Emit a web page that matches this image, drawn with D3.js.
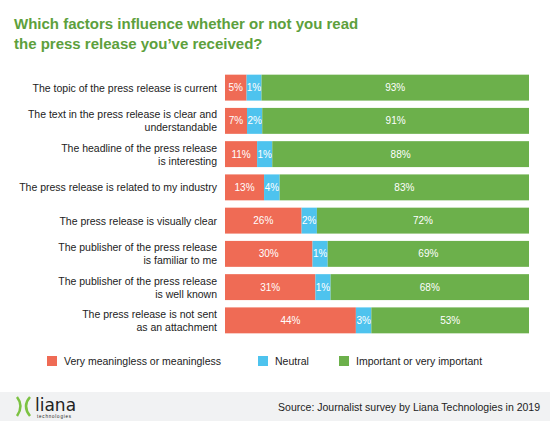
<!DOCTYPE html><html><head><meta charset="utf-8"><script src="https://cdn.jsdelivr.net/npm/d3@7"></script>
<style>body{margin:0;background:#fff}</style></head><body><svg id="c" width="550" height="421"></svg>
<script>
const categories=[["The topic of the press release is current"],["The text in the press release is clear and","understandable"],["The headline of the press release","is interesting"],["The press release is related to my industry"],["The press release is visually clear"],["The publisher of the press release","is familiar to me"],["The publisher of the press release","is well known"],["The press release is not sent","as an attachment"]];
const meaningless=[5,7,11,13,26,30,31,44];
const neutral=[1,2,1,4,2,1,1,3];
const important=[93,91,88,83,72,69,68,53];
const seriesNames=["Very meaningless or meaningless","Neutral","Important or very important"];
const colors=["#ef6b55","#4ec3ee","#6cb04b"];
const svg=d3.select("#c"),F="Liberation Sans, Arial, sans-serif";
svg.append("text").attr("x",14).attr("y",29).attr("fill","#5da03c").attr("font-family",F).attr("font-weight","bold").attr("font-size",15).text("Which factors influence whether or not you read");
svg.append("text").attr("x",14).attr("y",49).attr("fill","#5da03c").attr("font-family",F).attr("font-weight","bold").attr("font-size",15).text("the press release you’ve received?");
const y=d3.scaleBand().domain(d3.range(8)).range([73,335]).paddingInner(0.22).paddingOuter(0.05);
const x0=225,x1=529;
const minV=[7.5,5.2,0];
categories.forEach((cat,i)=>{
  const vals=[meaningless[i],neutral[i],important[i]];
  const adj=vals.map((v,k)=>Math.max(v,minV[k]));
  const x=d3.scaleLinear().domain([0,d3.sum(adj)]).range([x0,x1]);
  let acc=0;
  adj.forEach((a,k)=>{
    const g=svg.append("g");
    g.append("rect").attr("x",x(acc)).attr("y",y(i)).attr("width",x(acc+a)-x(acc)).attr("height",y.bandwidth()).attr("fill",colors[k]);
    g.append("text").attr("x",(x(acc)+x(acc+a))/2).attr("y",y(i)+y.bandwidth()/2+3.5).attr("text-anchor","middle").attr("fill","#fff").attr("font-family",F).attr("font-size",10).text(vals[k]+"%");
    acc+=a;
  });
  const t=svg.append("text").attr("text-anchor","end").attr("font-family",F).attr("font-size",10.5).attr("fill","#222");
  const cy=y(i)+y.bandwidth()/2;
  cat.forEach((l,j)=>t.append("tspan").attr("x",217).attr("y",cy+4+(j-(cat.length-1)/2)*13).text(l));
});
const lx=[47,258,339];
seriesNames.forEach((n,k)=>{
  svg.append("rect").attr("x",lx[k]).attr("y",356).attr("width",10).attr("height",10).attr("fill",colors[k]);
  svg.append("text").attr("x",lx[k]+17).attr("y",365).attr("font-family",F).attr("font-size",10.5).attr("fill","#222").text(n);
});
svg.append("rect").attr("x",0).attr("y",392).attr("width",550).attr("height",29).attr("fill","#f1f2f3");
svg.append("path").attr("d","M17,397 Q24,406 17,416").attr("stroke","#7cc242").attr("stroke-width",2.5).attr("fill","none");
svg.append("path").attr("d","M30,397 Q22,406 30,416").attr("stroke","#7cc242").attr("stroke-width",2.5).attr("fill","none");
svg.append("text").attr("x",35).attr("y",411).attr("font-family","DejaVu Sans, sans-serif").attr("font-size",17).attr("fill","#222").text("liana");
svg.append("text").attr("x",37).attr("y",418).attr("font-family",F).attr("font-size",4.5).attr("letter-spacing",0.8).attr("fill","#222").text("technologies");
svg.append("text").attr("x",540).attr("y",411).attr("text-anchor","end").attr("font-family",F).attr("font-size",10.5).attr("fill","#222").text("Source: Journalist survey by Liana Technologies in 2019");
</script></body></html>
